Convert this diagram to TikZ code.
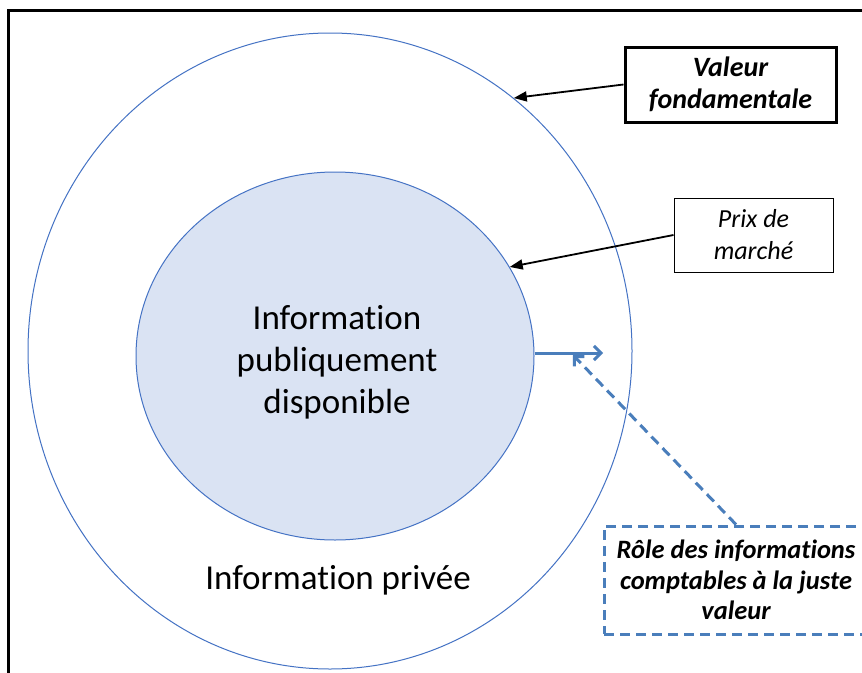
\documentclass[tikz,border=0pt]{standalone}
\usepackage{fontspec}
\setmainfont{Carlito}[Ligatures=NoCommon]
\usetikzlibrary{shapes.geometric,arrows.meta}
\definecolor{circblue}{HTML}{4472C4}
\definecolor{fillblue}{HTML}{DAE3F3}
\definecolor{dashblue}{HTML}{4A7EBB}
\begin{document}
\begin{tikzpicture}[x=1pt,y=-1pt,
  ring/.style={ellipse, draw=circblue, line width=1pt, inner sep=0pt},
  bigtext/.style={align=center, font=\fontsize{35}{42}\selectfont},
  labelbox/.style={draw=black, align=center, inner sep=0pt},
  blackarrow/.style={line width=1.8pt, -{Triangle[length=13pt,width=10pt]}},
  bluearrow/.style={draw=dashblue, line width=3pt, -{Straight Barb[length=7pt,width=14pt,line width=3pt]}}
]
\path[use as bounding box, clip] (0,0) rectangle (862,672);
\fill[white] (0,0) rectangle (862,672);
% frame
\draw[line width=3pt] (8,10) rectangle (880,690);
% circles
\node[ring, minimum width=604pt, minimum height=636pt] (outer) at (330,351) {};
\node[ring, fill=fillblue, minimum width=398pt, minimum height=368pt] (inner) at (335,356) {};
\node[bigtext] (pub) at (337,362) {Information\\publiquement\\disponible};
\node[bigtext] (priv) at (338,580) {Information privée};
% label boxes
\node[labelbox, line width=3pt, minimum width=211pt, minimum height=75pt,
  font=\fontsize{28}{32}\selectfont\bfseries\itshape] (valeur) at (730.5,84.5) {Valeur\\fondamentale};
\node[labelbox, line width=1pt, minimum width=159pt, minimum height=74pt,
  font=\fontsize{26}{32}\selectfont\itshape] (prix) at (753.5,235) {Prix de\\marché};
\node[draw=dashblue, line width=3pt, dash pattern=on 10pt off 6pt, align=center, inner sep=0pt,
  minimum width=264pt, minimum height=108pt,
  font=\fontsize{26.5}{30.5}\selectfont\bfseries\itshape] (role) at (736,580) {Rôle des informations\\comptables à la juste\\valeur};
% arrows
\draw[blackarrow] (valeur.west) -- (outer.54.6);
\draw[blackarrow] (prix.west) -- (inner.27.2);
\coordinate (tipA) at (603,353);
\coordinate (meet) at (573,355);
\draw[bluearrow] (inner.east |- tipA) -- (tipA);
\draw[bluearrow, dash pattern=on 10pt off 6pt] (role.north) -- (meet);
\end{tikzpicture}
\end{document}
